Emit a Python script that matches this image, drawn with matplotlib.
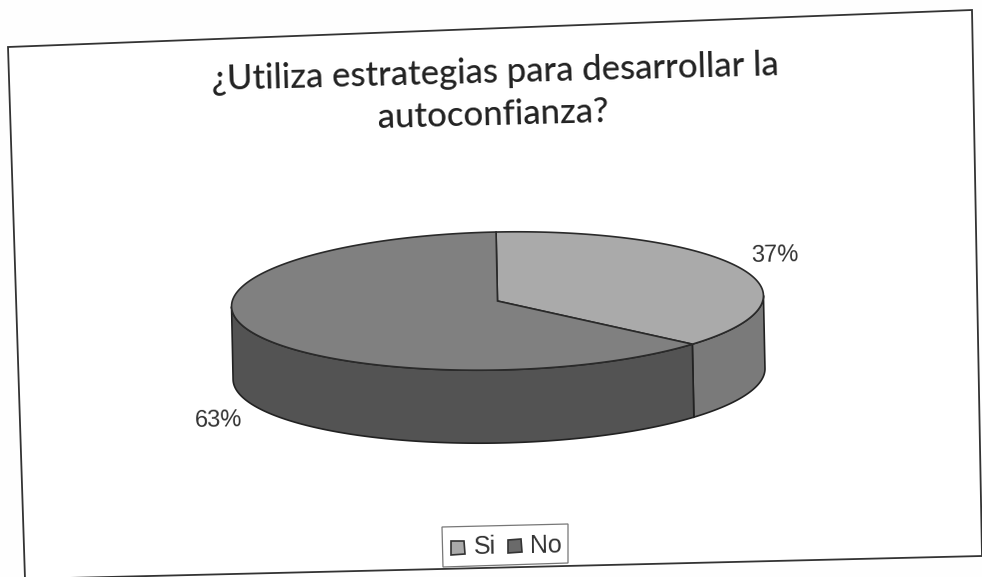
import numpy as np
import matplotlib
matplotlib.use("Agg")
import matplotlib.pyplot as plt
from matplotlib.patches import Polygon
from matplotlib.transforms import Affine2D

title_lines = ["¿Utiliza estrategias para desarrollar la", "autoconfianza?"]
categories = ["Si", "No"]
shares = [37, 63]
labels = ["37%", "63%"]
top_colors = ["#aaaaaa", "#808080"]
side_colors = ["#7a7a7a", "#535353"]
W, H = 982, 577
cx, cy, a, b, depth, tilt = 497.5, 301, 266, 69, 73, -1.2

fig = plt.figure(figsize=(W/100, H/100), dpi=100, facecolor="#fefefe")
ax = fig.add_axes([0, 0, 1, 1])
ax.set_xlim(0, W); ax.set_ylim(H, 0); ax.axis("off")

ax.add_patch(Polygon([(8, 47), (972, 10), (982, 556), (25, 579)], closed=True, fc="white", ec="#333333", lw=1.3, zorder=0))
rot = Affine2D().rotate_deg_around(cx, cy, tilt) + ax.transData

def pt(theta, dz=0):
    return cx + a*np.sin(theta), cy - b*np.cos(theta) + dz

fracs = np.array(shares) / sum(shares)
edges = np.concatenate([[0], np.cumsum(fracs)]) * 2*np.pi
for i in range(2):
    t0, t1 = max(edges[i], np.pi/2), min(edges[i+1], 3*np.pi/2)
    if t1 > t0:
        t = np.linspace(t0, t1, 200)
        x, y = pt(t)
        xb, yb = pt(t[::-1], depth)
        ax.add_patch(Polygon(np.r_[np.c_[x, y], np.c_[xb, yb]], closed=True, fc=side_colors[i], ec="#222222", lw=1.2, transform=rot, zorder=2))
for i in range(2):
    t = np.linspace(edges[i], edges[i+1], 300)
    x, y = pt(t)
    ax.add_patch(Polygon(np.r_[[[cx, cy]], np.c_[x, y]], closed=True, fc=top_colors[i], ec="#2a2a2a", lw=1.2, transform=rot, zorder=3))

sans = "Liberation Sans"
ax.text(775, 256, labels[0], ha="center", va="center", fontsize=17, family=sans, color="#333333", rotation=1)
ax.text(218, 421, labels[1], ha="center", va="center", fontsize=17, family=sans, color="#333333", rotation=1)
ax.text(495, 73, title_lines[0], ha="center", va="center", fontsize=25, family="Lato", fontweight="medium", color="#222222", rotation=1.5)
ax.text(493, 115, title_lines[1], ha="center", va="center", fontsize=25, family="Lato", fontweight="medium", color="#222222", rotation=1.5)

# legend
ax.add_patch(Polygon([(442, 527), (568, 524), (568, 563), (443, 567)], closed=True, fc="white", ec="#777777", lw=0.9, zorder=4))
ax.add_patch(Polygon([(451, 541), (464, 541), (465, 554), (451, 555)], closed=True, fc=top_colors[0], ec="#333333", lw=1.2, zorder=5))
ax.text(473, 547, categories[0], va="center", fontsize=18, family=sans, color="#333333", zorder=5, rotation=1)
ax.add_patch(Polygon([(508, 540), (521, 539), (522, 552), (508, 553)], closed=True, fc="#6a6a6a", ec="#333333", lw=1.2, zorder=5))
ax.text(530, 546, categories[1], va="center", fontsize=18, family=sans, color="#333333", zorder=5, rotation=1)

fig.savefig("out.png", dpi=100, facecolor=fig.get_facecolor())
